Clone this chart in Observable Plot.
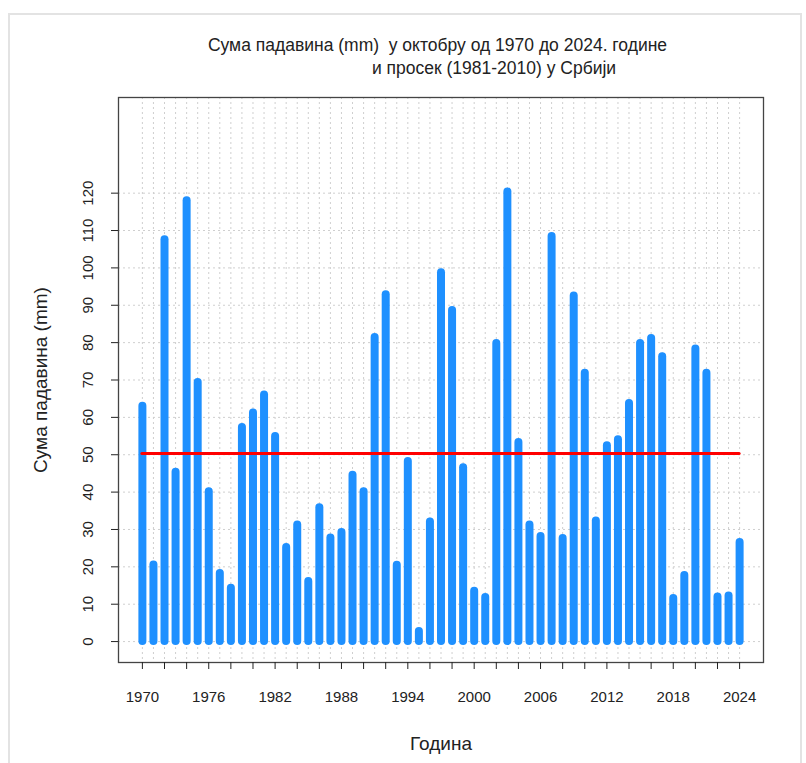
<!DOCTYPE html>
<html><head><meta charset="utf-8">
<script src="https://cdn.jsdelivr.net/npm/d3@7"></script>
<script src="https://cdn.jsdelivr.net/npm/@observablehq/plot@0.6"></script>
<style>
html,body{margin:0;padding:0;background:#fff;overflow:hidden;}
#wrap{position:relative;width:806px;height:763px;}
#border{position:absolute;left:8px;top:13px;width:790px;height:800px;border:2px solid #e3e3e3;pointer-events:none;}
</style></head><body>
<div id="wrap"><div id="chart"></div><div id="border"></div></div>
<script>
const years = [1970,1971,1972,1973,1974,1975,1976,1977,1978,1979,
  1980,1981,1982,1983,1984,1985,1986,1987,1988,1989,
  1990,1991,1992,1993,1994,1995,1996,1997,1998,1999,
  2000,2001,2002,2003,2004,2005,2006,2007,2008,2009,
  2010,2011,2012,2013,2014,2015,2016,2017,2018,2019,
  2020,2021,2022,2023,2024];
const precip = [63.0,20.5,107.5,45.3,118.0,69.3,40.1,18.2,14.3,57.3,
  61.2,66.0,54.9,25.2,31.2,16.1,35.8,27.7,29.2,44.5,
  40.1,81.4,92.8,20.4,48.2,2.7,32.0,98.7,88.6,46.5,
  13.5,11.8,79.8,120.3,53.3,31.2,28.1,108.4,27.6,92.5,
  71.8,32.3,52.4,54.0,63.7,79.8,81.1,76.2,11.5,17.7,
  78.3,71.8,11.9,12.2,26.5];
const average = 50.3;
const yTicks = [0,10,20,30,40,50,60,70,80,90,100,110,120];
const xTicks = [1970,1972,1974,1976,1978,1980,1982,1984,1986,1988,1990,1992,1994,1996,1998,
  2000,2002,2004,2006,2008,2010,2012,2014,2016,2018,2020,2022,2024];
const xLabels = [1970,1976,1982,1988,1994,2000,2006,2012,2018,2024];
const title1 = "Сума падавина (mm)  у октобру од 1970 до 2024. године";
const title2 = "и просек (1981-2010) у Србији";
const yLabel = "Сума падавина (mm)";
const xLabel = "Година";

const data = years.map((year, i) => ({year, value: precip[i]}));
const font = "'Liberation Sans', Arial, sans-serif";
const grid = "#cfcfcf";

const chart = Plot.plot({
  width: 806, height: 763,
  marginLeft: 118, marginRight: 43, marginTop: 97, marginBottom: 101,
  x: {domain: [1967.84, 2026.16]},
  y: {domain: [-5.6, 145.6]},
  style: {fontFamily: font, fontSize: "15px", color: "#222", background: "transparent"},
  marks: [
    Plot.ruleX(years, {stroke: grid, strokeDasharray: "2 3"}),
    Plot.ruleY(yTicks, {stroke: grid, strokeDasharray: "2 3"}),
    Plot.ruleX(data, {x: "year", y1: 0, y2: "value", stroke: "#1E90FF", strokeWidth: 8, strokeLinecap: "round"}),
    Plot.ruleY([average], {x1: years[0], x2: years[years.length - 1], stroke: "#ff0000", strokeWidth: 3, strokeLinecap: "round"}),
    Plot.frame({stroke: "#444", strokeWidth: 1.3}),
    Plot.axisX(xTicks, {tickSize: 7, tickPadding: 22, tickFormat: d => xLabels.includes(d) ? String(d) : "", fontSize: 15, label: null}),
    Plot.axisY(yTicks, {tickSize: 7, tickRotate: -90, tickPadding: 19, tickFormat: d => String(d), fontSize: 15, label: null}),
    Plot.text([xLabel], {frameAnchor: "bottom", dy: 87, fontSize: 19, textAnchor: "middle", lineAnchor: "bottom"}),
    Plot.text([yLabel], {frameAnchor: "left", dx: -78, rotate: -90, fontSize: 19, textAnchor: "middle", lineAnchor: "middle"}),
    Plot.text([title1], {frameAnchor: "top", dy: -59, dx: -3.5, fontSize: 17.5, textAnchor: "middle", lineAnchor: "top"}),
    Plot.text([title2], {frameAnchor: "top", dy: -36, dx: 53, fontSize: 17.5, textAnchor: "middle", lineAnchor: "top"})
  ]
});
document.getElementById("chart").appendChild(chart);
</script>
</body></html>
